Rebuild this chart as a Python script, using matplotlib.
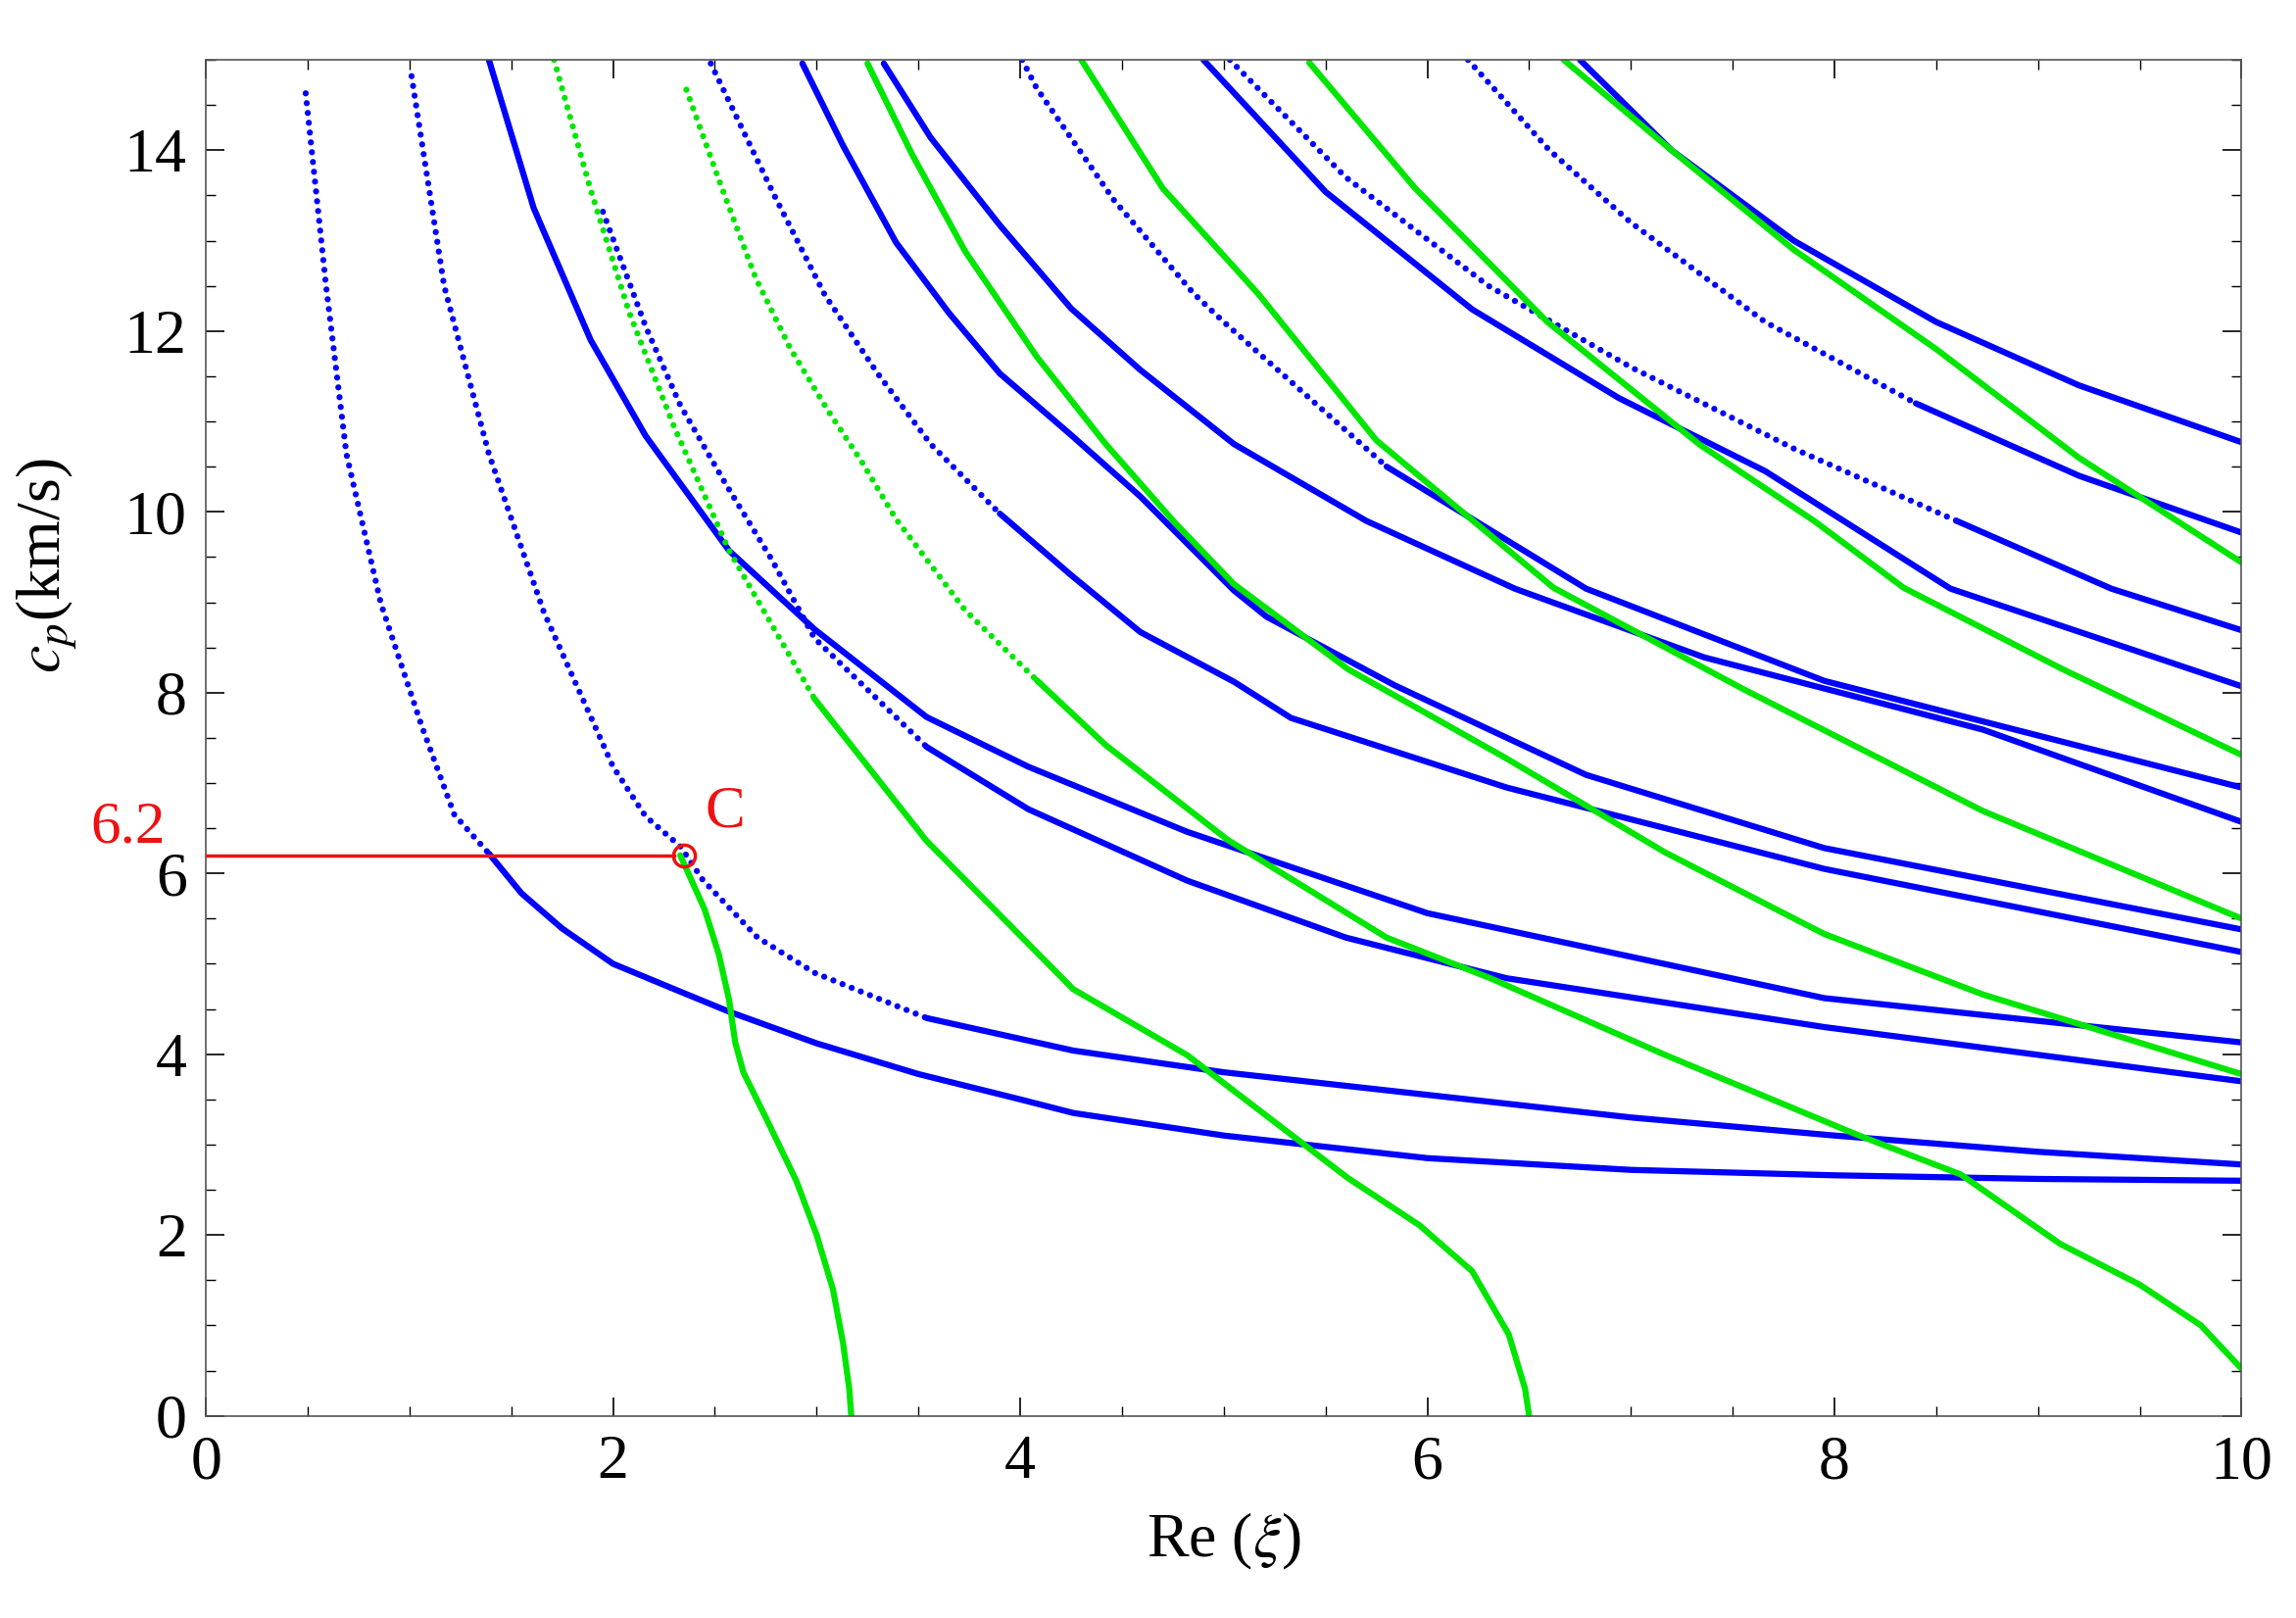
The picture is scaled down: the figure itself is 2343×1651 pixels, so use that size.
import matplotlib
matplotlib.use("Agg")
import matplotlib.pyplot as plt
from matplotlib.ticker import MultipleLocator

plt.rcParams['font.family'] = ['Liberation Serif', 'DejaVu Serif']
plt.rcParams['mathtext.fontset'] = 'stix'

# ---- data: (x, y) waypoints ----
# blue branches
A_x = [0.49, 0.59, 0.69, 0.86, 1.06, 1.22, 1.39, 1.55, 1.75, 2.0, 2.30, 2.57, 3.0, 3.5, 4.0, 4.26, 5.0, 6.0, 7.0, 8.0, 9.0, 10.0]
A_y = [14.63, 12.5, 10.64, 8.98, 7.63, 6.65, 6.22, 5.78, 5.39, 5.0, 4.72, 4.47, 4.12, 3.78, 3.5, 3.35, 3.1, 2.85, 2.72, 2.66, 2.62, 2.6]
B2_x = [1.01, 1.17, 1.39, 1.66, 2.0, 2.16, 2.33, 2.44, 2.71, 2.99, 3.54, 4.26, 5.0, 6.0, 7.0, 8.0, 9.0, 10.0]
B2_y = [14.82, 12.5, 10.64, 8.89, 7.18, 6.63, 6.3, 5.93, 5.29, 4.9, 4.4, 4.04, 3.8, 3.55, 3.3, 3.1, 2.92, 2.78]
B3_x = [1.39, 1.61, 1.89, 2.16, 2.57, 2.99, 3.54, 4.04, 4.82, 6.0, 7.95, 10.0]
B3_y = [15.0, 13.36, 11.9, 10.84, 9.57, 8.7, 7.73, 7.18, 6.46, 5.56, 4.62, 4.13]
X_x = [1.95, 2.16, 2.33, 2.55, 2.78, 2.99, 3.54, 4.04, 4.82, 5.6, 6.39, 7.95, 10.0]
X_y = [13.32, 12.05, 11.18, 10.32, 9.47, 8.6, 7.4, 6.71, 5.92, 5.29, 4.84, 4.30, 3.70]
B4_x = [2.48, 2.79, 3.04, 3.30, 3.56, 3.90, 4.25, 4.59, 5.05, 5.33, 6.39, 7.95, 10.0]
B4_y = [14.96, 13.51, 12.4, 11.53, 10.75, 9.98, 9.30, 8.67, 8.12, 7.72, 6.95, 6.05, 5.13]
B5_x = [2.93, 3.13, 3.39, 3.65, 3.90, 4.25, 4.59, 5.05, 5.21, 5.84, 6.78, 7.95, 10.0]
B5_y = [14.96, 14.05, 12.98, 12.2, 11.53, 10.85, 10.17, 9.13, 8.84, 8.08, 7.09, 6.28, 5.38]
B6_x = [3.33, 3.56, 3.90, 4.25, 4.59, 5.05, 5.7, 6.43, 7.36, 8.73, 10.0]
B6_y = [14.96, 14.14, 13.17, 12.25, 11.57, 10.75, 9.9, 9.15, 8.39, 7.59, 6.57]
B7_x = [4.01, 4.08, 4.46, 4.85, 5.0, 5.8, 6.78, 7.95, 10.0]
B7_y = [15.0, 14.69, 13.45, 12.42, 12.1, 10.5, 9.15, 8.13, 6.95]
B8_x = [4.90, 5.50, 6.22, 6.94, 7.66, 8.57, 10.0]
B8_y = [15.0, 13.54, 12.24, 11.26, 10.45, 9.15, 8.07]
B9_x = [5.03, 5.6, 6.3, 7.0, 7.8, 8.6, 9.36, 10.0]
B9_y = [15.0, 13.7, 12.5, 11.6, 10.7, 9.9, 9.15, 8.69]
B10_x = [6.2, 6.6, 7.0, 7.66, 8.4, 9.2, 10.0]
B10_y = [15.0, 14.0, 13.2, 12.1, 11.2, 10.4, 9.77]
B11_x = [6.75, 7.2, 7.8, 8.5, 9.2, 10.0]
B11_y = [15.0, 14.0, 13.0, 12.1, 11.4, 10.77]

# green branches
G1_x = [2.33, 2.45, 2.52, 2.57, 2.6, 2.64, 2.75, 2.9, 3.0, 3.08, 3.13, 3.16, 3.17]
G1_y = [6.2, 5.6, 5.1, 4.6, 4.13, 3.8, 3.3, 2.6, 2.0, 1.4, 0.8, 0.3, 0.0]
G2_x = [1.71, 1.89, 2.08, 2.30, 2.57, 2.99, 3.54, 4.26, 4.82, 5.61, 5.96, 6.22, 6.4, 6.48, 6.5]
G2_y = [15.0, 13.56, 12.2, 10.94, 9.57, 7.93, 6.36, 4.72, 3.99, 2.63, 2.11, 1.6, 0.9, 0.3, 0.0]
G3_x = [2.36, 2.53, 2.70, 2.87, 3.05, 3.22, 3.39, 3.73, 4.08, 4.42, 5.02, 5.80, 6.31, 7.17, 8.11, 8.62, 9.11, 9.5, 9.8, 10.0]
G3_y = [14.67, 13.61, 12.59, 11.81, 11.14, 10.56, 9.92, 8.91, 8.14, 7.42, 6.37, 5.29, 4.84, 3.99, 3.11, 2.67, 1.9, 1.45, 1.0, 0.52]
G4_x = [3.25, 3.47, 3.73, 4.08, 4.42, 4.76, 5.05, 5.61, 6.39, 7.17, 7.95, 8.73, 10.0]
G4_y = [14.96, 13.95, 12.88, 11.72, 10.75, 9.88, 9.2, 8.26, 7.27, 6.23, 5.33, 4.66, 3.78]
G5_x = [4.30, 4.70, 5.17, 5.75, 6.62, 7.56, 8.73, 10.0]
G5_y = [15.0, 13.58, 12.41, 10.79, 9.16, 8.03, 6.69, 5.5]
G6_x = [5.42, 5.94, 6.59, 7.34, 7.9, 8.34, 9.12, 10.0]
G6_y = [14.97, 13.58, 12.1, 10.74, 9.9, 9.16, 8.26, 7.31]
G7_x = [6.67, 7.2, 7.8, 8.5, 9.2, 10.0]
G7_y = [15.0, 14.0, 12.9, 11.8, 10.6, 9.44]

# point C
C_x, C_y = 2.35, 6.2

BLUE = '#0000ff'
GREEN = '#00e600'

fig = plt.figure(figsize=(23.43, 16.51), dpi=100)
ax = fig.add_axes([0.0897, 0.125, 0.8866, 0.838])

# (x, y, colour, number of leading waypoints drawn dotted)
curves = [
    (A_x, A_y, BLUE, 6), (B2_x, B2_y, BLUE, 10), (B3_x, B3_y, BLUE, 0),
    (X_x, X_y, BLUE, 6), (B4_x, B4_y, BLUE, 5), (B5_x, B5_y, BLUE, 0),
    (B6_x, B6_y, BLUE, 0), (B7_x, B7_y, BLUE, 5), (B8_x, B8_y, BLUE, 0),
    (B9_x, B9_y, BLUE, 5), (B10_x, B10_y, BLUE, 4), (B11_x, B11_y, BLUE, 0),
    (G1_x, G1_y, GREEN, 0), (G2_x, G2_y, GREEN, 5), (G3_x, G3_y, GREEN, 8),
    (G4_x, G4_y, GREEN, 0), (G5_x, G5_y, GREEN, 0), (G6_x, G6_y, GREEN, 0),
    (G7_x, G7_y, GREEN, 0),
]
for xs, ys, col, nd in curves:
    if nd > 0:
        ax.plot(xs[:nd + 1], ys[:nd + 1], color=col, lw=4.5,
                dashes=(0.01, 1.6), dash_capstyle='round', zorder=2)
    ax.plot(xs[nd:], ys[nd:], color=col, lw=4.5, solid_capstyle='round',
            solid_joinstyle='round', zorder=2)

# red marker line and point C
ax.plot([0, C_x - 0.05], [C_y, C_y], color='#ee1111', lw=2.5, zorder=3)
ax.plot([C_x], [C_y], 'o', mfc='none', mec='#ee1111', ms=16, mew=2.5, zorder=4)
ax.text(2.45, 6.38, 'C', color='#ee1111', fontsize=44, va='bottom', ha='left')
ax.text(-0.2, 6.2, '6.2', color='#ee1111', fontsize=44, va='bottom', ha='right')

ax.set_xlim(0, 10)
ax.set_ylim(0, 15)
ax.xaxis.set_major_locator(MultipleLocator(2))
ax.xaxis.set_minor_locator(MultipleLocator(0.5))
ax.yaxis.set_major_locator(MultipleLocator(2))
ax.yaxis.set_minor_locator(MultipleLocator(0.5))
ax.tick_params(which='both', direction='in', top=True, right=True, labelsize=46, pad=14)
ax.tick_params(which='major', length=14, width=1.2)
ax.tick_params(which='minor', length=7, width=1.0)
for s in ax.spines.values():
    s.set_linewidth(1.2)
    s.set_color('#555555')

ax.set_xlabel(r'Re ($\xi$)', fontsize=46, labelpad=14)
ax.set_ylabel(r'$c_p$(km/s)', fontsize=46, labelpad=10)
ax.yaxis.set_label_coords(-0.062, 9.4 / 15)

fig.savefig('out.png', dpi=100)
